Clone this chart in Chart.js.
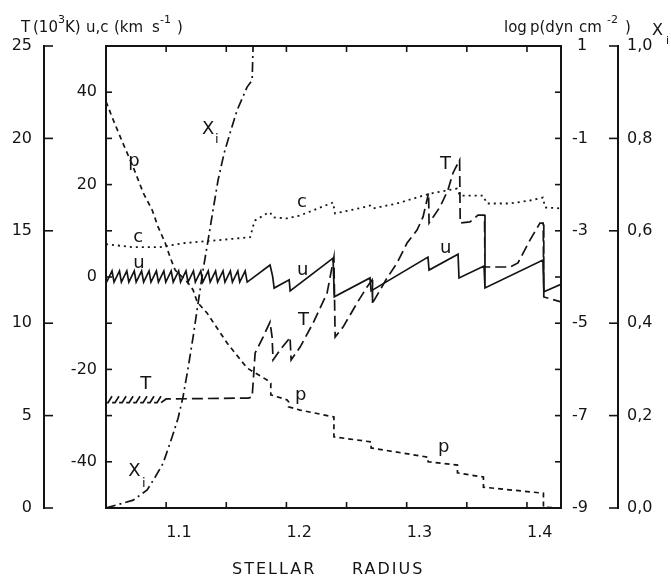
<!DOCTYPE html>
<html>
<head>
<meta charset="utf-8">
<title>Stellar radius profiles</title>
<script src="https://cdn.jsdelivr.net/npm/chart.js@4.4.1/dist/chart.umd.min.js"></script>
<style>
  html, body { margin: 0; padding: 0; background: #fff; }
  #wrap { width: 671px; height: 580px; }
</style>
</head>
<body>
<div id="wrap"><canvas id="myChart" width="671" height="580"></canvas></div>
<script>
// values (radius in stellar radii)
const radiusTicks = [1.1, 1.2, 1.3, 1.4];
const radiusMinor = [1.1, 1.15, 1.2, 1.25, 1.3, 1.35, 1.4];
const velTicks = [-40, -20, 0, 20, 40];
const velMinor = [-40, -30, -20, -10, 0, 10, 20, 30, 40];
const tempTicks = [0, 5, 10, 15, 20, 25];
const logpTicks = [1, -1, -3, -5, -7, -9];
const logpLabels = [' 1', '-1', '-3', '-5', '-7', '-9'];
const logpMinor = [0, -1, -2, -3, -4, -5, -6, -7, -8];
const xiTicks = [0, 0.2, 0.4, 0.6, 0.8, 1.0];
const xiLabels = ['0,0', '0,2', '0,4', '0,6', '0,8', '1,0'];

// u (km/s), solid
const uRadius = [1.0505, 1.0550, 1.0567, 1.0612, 1.0628, 1.0673, 1.0690, 1.0735, 1.0751, 1.0796,
  1.0813, 1.0858, 1.0874, 1.0919, 1.0936, 1.0981, 1.0997, 1.1042, 1.1059, 1.1104,
  1.1120, 1.1165, 1.1182, 1.1227, 1.1243, 1.1288, 1.1305, 1.1350, 1.1366, 1.1411,
  1.1428, 1.1473, 1.1489, 1.1534, 1.1551, 1.1596, 1.1612, 1.1657, 1.1674,
  1.1864, 1.1886, 1.1898, 1.2023, 1.2031, 1.2388, 1.2398, 1.2695, 1.2704, 1.3177,
  1.3186, 1.3427, 1.3435, 1.3643, 1.3651, 1.4133, 1.4141, 1.4283];
const uVel = [-1.1, 1.3, -1.1, 1.3, -1.1, 1.3, -1.1, 1.3, -1.1, 1.3,
  -1.1, 1.3, -1.1, 1.3, -1.1, 1.3, -1.1, 1.3, -1.1, 1.3,
  -1.1, 1.3, -1.1, 1.3, -1.1, 1.3, -1.1, 1.3, -1.1, 1.3,
  -1.1, 1.3, -1.1, 1.3, -1.1, 1.3, -1.1, 1.3, -1.1,
  2.6, 0.1, -2.4, -0.6, -3.0, 4.1, -4.3, -0.2, -3.0, 4.3,
  1.5, 4.95, -0.2, 2.37, -2.37, 3.66, -3.2, -1.6];

// c (km/s), dotted
const cRadius = [1.050, 1.0726, 1.095, 1.1141, 1.1424, 1.1698, 1.1723, 1.174, 1.1839, 1.1864,
  1.1889, 1.2006, 1.2114, 1.2388, 1.2404, 1.2637, 1.2695, 1.272, 1.292, 1.3194,
  1.3418, 1.3443, 1.3634, 1.3668, 1.3859, 1.4025, 1.4133, 1.415, 1.4283];
const cVel = [7.1, 6.45, 6.45, 7.31, 7.96, 8.6, 10.97, 12.26, 13.76, 13.98,
  12.9, 12.69, 13.33, 16.13, 13.76, 15.05, 15.48, 14.84, 15.91, 18.06,
  19.14, 17.63, 17.63, 15.91, 15.91, 16.56, 17.2, 15.05, 14.84];

// T (10^3 K), long dashes; hatched stretch at the inner edge
const tRadius = [1.0500, 1.0517, 1.0550, 1.0551, 1.0575, 1.0608, 1.0609, 1.0634, 1.0667, 1.0668,
  1.0692, 1.0725, 1.0726, 1.0750, 1.0783, 1.0784, 1.0808, 1.0841, 1.0842, 1.0866,
  1.0899, 1.0900, 1.0924, 1.0957, 1.0958,
  1.100, 1.1681, 1.1715, 1.174, 1.1806, 1.1864, 1.1881, 1.1889, 1.1947, 1.2014,
  1.203, 1.2039, 1.2114, 1.2222, 1.2338, 1.2395, 1.2405, 1.2471, 1.2587, 1.267,
  1.2712, 1.2716, 1.2837, 1.292, 1.3003, 1.3086, 1.3136, 1.3182, 1.3186, 1.3277,
  1.3343, 1.3385, 1.3440, 1.3445, 1.3526, 1.3593, 1.3647, 1.3651, 1.3859, 1.3925,
  1.4025, 1.4108, 1.4135, 1.4140, 1.4283];
const tempK = [5.7, 5.7, 6.05, 5.7, 5.7, 6.05, 5.7, 5.7, 6.05, 5.7,
  5.7, 6.05, 5.7, 5.7, 6.05, 5.7, 5.7, 6.05, 5.7, 5.7,
  6.05, 5.7, 5.7, 6.05, 5.7,
  5.9, 5.95, 6.0, 8.39, 9.25, 10.06, 9.25, 8.01, 8.55, 9.09,
  9.25, 8.01, 8.71, 10.01, 11.63, 13.58, 9.25, 9.79, 11.09, 11.96,
  12.34, 11.09, 12.45, 13.26, 14.34, 15.04, 15.75, 17.05, 15.42, 16.29,
  17.21, 18.13, 18.83, 15.42, 15.48, 15.85, 15.85, 13.04, 13.04, 13.26,
  14.50, 15.42, 15.42, 11.42, 11.15];
const hatchEnd = 1.0958;

// log p (dyn cm^-2), short dashes
const pRadius = [1.050, 1.056, 1.064, 1.0726, 1.081, 1.0884, 1.0934, 1.0992, 1.1033, 1.1075,
  1.1183, 1.1224, 1.1258, 1.134, 1.1507, 1.1673, 1.1839, 1.187, 1.187, 1.2006,
  1.2018, 1.2018, 1.2114, 1.2395, 1.2395, 1.2704, 1.2704, 1.3178, 1.3178, 1.3422,
  1.3422, 1.3638, 1.3638, 1.4137, 1.4137, 1.4283];
const logP = [-0.2, -0.6, -1.1, -1.62, -2.18, -2.55, -2.92, -3.26, -3.57, -3.85,
  -4.13, -4.28, -4.54, -4.78, -5.43, -5.97, -6.23, -6.3, -6.55, -6.66,
  -6.70, -6.81, -6.88, -7.03, -7.46, -7.57, -7.70, -7.90, -8.00, -8.07,
  -8.24, -8.33, -8.55, -8.68, -8.98, -9.0];

// X_i, dash-dot
const xiRadius = [1.050, 1.0726, 1.0842, 1.0909, 1.0975, 1.105, 1.110, 1.114, 1.118, 1.1224,
  1.1266, 1.1307, 1.1349, 1.139, 1.1432, 1.1482, 1.1532, 1.159, 1.1673, 1.1715, 1.1723];
const xiFrac = [0, 0.017, 0.039, 0.067, 0.097, 0.154, 0.195, 0.240, 0.299, 0.370,
  0.444, 0.515, 0.580, 0.645, 0.710, 0.768, 0.812, 0.861, 0.911, 0.926, 1.0];

// curve labels: [text, radius, velocity-axis value, subscript]
const curveLabels = [
  ['p', 1.0684, 24.1], ['X', 1.1299, 31.0], ['i', 1.1407, 29.0, true],
  ['c', 1.2089, 15.1], ['c', 1.0726, 7.5], ['u', 1.0726, 1.9], ['u', 1.2089, 0.4],
  ['T', 1.3277, 23.4], ['u', 1.3277, 5.2], ['T', 1.2097, -10.3], ['p', 1.2072, -26.7],
  ['T', 1.0784, -24.3], ['X', 1.0684, -43.0], ['i', 1.0800, -45.4, true], ['p', 1.3260, -37.8]
];

const ink = '#141414';
const fam = '"DejaVu Sans", sans-serif';
const pts = (xs, ys) => xs.map((x, i) => ({ x: x, y: ys[i] }));
const setTicks = vals => scale => { scale.ticks = vals.map(v => ({ value: v })); };

function line(ctx, x1, y1, x2, y2) {
  ctx.beginPath(); ctx.moveTo(x1, y1); ctx.lineTo(x2, y2); ctx.stroke();
}

function drawPieces(ctx, y, pieces) {
  pieces.forEach(([text, x, sup]) => {
    ctx.font = (sup ? '11px ' : '15px ') + fam;
    ctx.fillText(text, x, sup ? y - 9 : y);
  });
}

const decorations = {
  id: 'decorations',
  afterDraw(chart) {
    const { ctx, chartArea: a, scales } = chart;
    ctx.save();
    ctx.strokeStyle = ink;
    ctx.fillStyle = ink;
    ctx.lineWidth = 2;
    line(ctx, a.left, a.top, a.right, a.top);
    ctx.lineWidth = 1.6;
    radiusMinor.forEach(v => {
      const px = scales.x.getPixelForValue(v);
      line(ctx, px, a.bottom, px, a.bottom - 6);
      line(ctx, px, a.top, px, a.top + 6);
    });
    velMinor.forEach(v => {
      const py = scales.vel.getPixelForValue(v);
      line(ctx, a.left, py, a.left + 6, py);
    });
    logpMinor.forEach(v => {
      const py = scales.logp.getPixelForValue(v);
      line(ctx, a.right, py, a.right - 6, py);
    });
    tempTicks.forEach(v => {
      const py = scales.temp.getPixelForValue(v);
      line(ctx, scales.temp.right, py, scales.temp.right + 9, py);
    });
    xiTicks.forEach(v => {
      const py = scales.xi.getPixelForValue(v);
      line(ctx, scales.xi.left, py, scales.xi.left - 9, py);
    });

    // curve labels
    ctx.textBaseline = 'alphabetic';
    ctx.textAlign = 'left';
    curveLabels.forEach(([t, r, v, sub]) => {
      ctx.font = (sub ? '13px ' : '18px ') + fam;
      ctx.fillText(t, scales.x.getPixelForValue(r), scales.vel.getPixelForValue(v));
    });

    // headers
    drawPieces(ctx, 32, [['T', 21], ['(10', 33], ['3', 58, true], ['K)', 65],
      ['u,c', 86], ['(km', 114], ['s', 152], ['-1', 160, true], [')', 177]]);
    drawPieces(ctx, 32, [['log', 504], ['p(dyn', 530], ['cm', 579], ['-2', 607, true], [')', 625]]);
    ctx.font = '16px ' + fam;
    ctx.fillText('X', 652, 35);
    ctx.font = '11px ' + fam;
    ctx.fillText('i', 666, 44);

    // x axis title
    ctx.font = '16px ' + fam;
    ctx.letterSpacing = '2px';
    ctx.fillText('STELLAR', 232, 574);
    ctx.fillText('RADIUS', 352, 574);
    ctx.restore();
  }
};

const tickFont = { family: 'DejaVu Sans', size: 16 };
const hidden = { display: false, drawTicks: false };

const ctx = document.getElementById('myChart').getContext('2d');
const myChart = new Chart(ctx, {
  type: 'scatter',
  data: {
    datasets: [
      { label: 'u', data: pts(uRadius, uVel), yAxisID: 'vel', showLine: true,
        borderColor: ink, borderWidth: 1.7, pointRadius: 0 },
      { label: 'c', data: pts(cRadius, cVel), yAxisID: 'vel', showLine: true,
        borderColor: ink, borderWidth: 1.8, borderDash: [2, 4], pointRadius: 0 },
      { label: 'T', data: pts(tRadius, tempK), yAxisID: 'temp', showLine: true,
        borderColor: ink, borderWidth: 1.7, pointRadius: 0,
        segment: {
          borderDash: c => c.p1.parsed.x <= hatchEnd ? [] : [11, 5],
          borderColor: c => (c.p1.parsed.x <= hatchEnd && c.p1.parsed.y < c.p0.parsed.y) ? 'rgba(0,0,0,0)' : ink
        } },
      { label: 'p', data: pts(pRadius, logP), yAxisID: 'logp', showLine: true,
        borderColor: ink, borderWidth: 1.7, borderDash: [5, 4], pointRadius: 0 },
      { label: 'Xi', data: pts(xiRadius, xiFrac), yAxisID: 'xi', showLine: true,
        borderColor: ink, borderWidth: 1.7, borderDash: [10, 4, 2, 4], pointRadius: 0 }
    ]
  },
  options: {
    responsive: false,
    animation: false,
    devicePixelRatio: 1,
    layout: { padding: { top: 46, left: 0, right: 0, bottom: 0 } },
    plugins: { legend: { display: false }, tooltip: { enabled: false } },
    scales: {
      x: {
        type: 'linear', position: 'bottom', min: 1.05, max: 1.4283,
        grid: hidden, border: { display: true, color: ink, width: 2 },
        afterBuildTicks: setTicks(radiusTicks),
        afterFit: s => { s.height = 72; },
        ticks: { font: tickFont, color: ink, padding: 15, align: 'start', maxRotation: 0,
          callback: v => v.toFixed(1) }
      },
      vel: {
        type: 'linear', position: 'left', weight: 0, min: -50, max: 50,
        grid: hidden, border: { display: true, color: ink, width: 2 },
        afterBuildTicks: setTicks(velTicks),
        afterFit: s => { s.width = 62; },
        ticks: { font: tickFont, color: ink, padding: 9 }
      },
      temp: {
        type: 'linear', position: 'left', weight: 1, min: 0, max: 25,
        grid: hidden, border: { display: true, color: ink, width: 2 },
        afterBuildTicks: setTicks(tempTicks),
        afterFit: s => { s.width = 44; },
        ticks: { font: tickFont, color: ink, padding: 12 }
      },
      logp: {
        type: 'linear', position: 'right', weight: 0, min: -9, max: 1,
        grid: hidden, border: { display: true, color: ink, width: 2 },
        afterBuildTicks: setTicks(logpTicks),
        afterFit: s => { s.width = 57; },
        ticks: { font: tickFont, color: ink, padding: 11, crossAlign: 'near',
          callback: (v, i) => logpLabels[i] }
      },
      xi: {
        type: 'linear', position: 'right', weight: 1, min: 0, max: 1,
        grid: hidden, border: { display: true, color: ink, width: 2 },
        afterBuildTicks: setTicks(xiTicks),
        afterFit: s => { s.width = 53; },
        ticks: { font: tickFont, color: ink, padding: 9,
          callback: (v, i) => xiLabels[i] }
      }
    }
  },
  plugins: [decorations]
});
</script>
</body>
</html>
